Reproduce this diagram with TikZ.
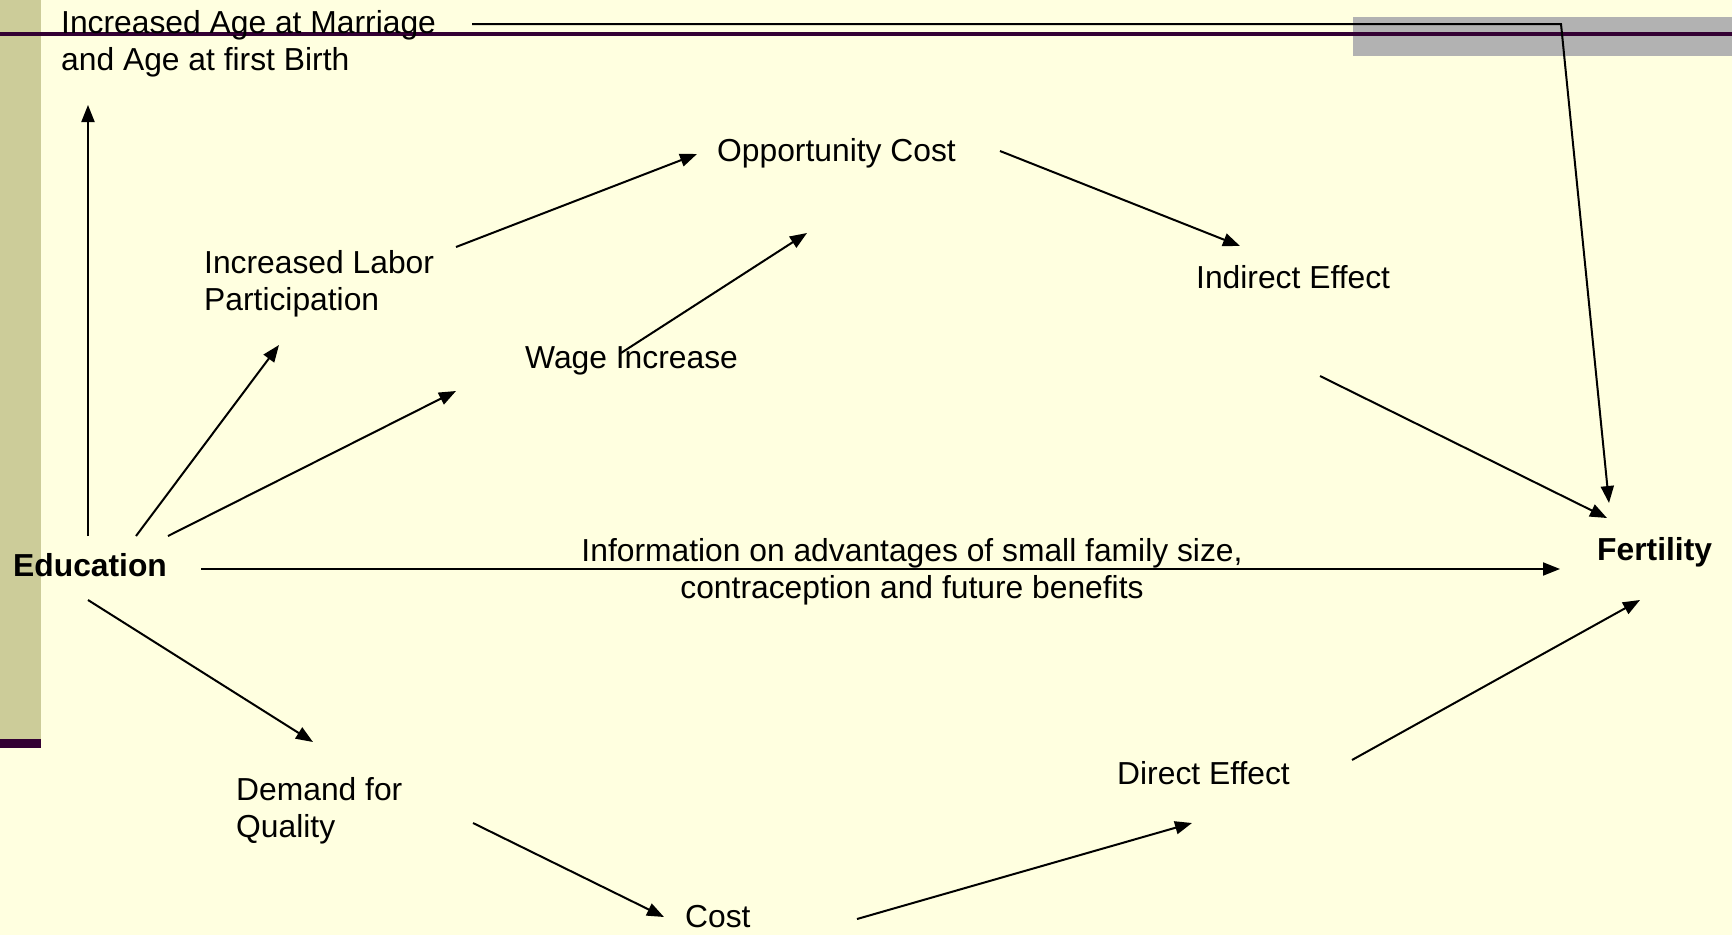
\documentclass[tikz,border=0pt]{standalone}
\usepackage{fontspec}
\setmainfont{Liberation Sans}
\usetikzlibrary{arrows.meta}
\definecolor{bg}{RGB}{255,255,224}
\definecolor{olivebar}{RGB}{204,204,153}
\definecolor{purp}{RGB}{51,0,51}
\definecolor{graybar}{RGB}{178,178,178}
\begin{document}
\begin{tikzpicture}[x=1pt,y=-1pt,
  every node/.style={inner sep=0pt, font=\fontsize{31.8}{37.5}\selectfont},
  lbl/.style={anchor=west, align=left},
  arr/.style={line width=2pt, -{Triangle[length=17pt,width=13pt]}}]
\useasboundingbox (0,0) rectangle (1732,935);
\fill[bg] (0,0) rectangle (1732,935);
\fill[graybar] (1353,17) rectangle (1732,56);
\fill[olivebar] (0,0) rectangle (41,739);
\fill[purp] (0,739) rectangle (41,748);
\fill[purp] (0,31.5) rectangle (1732,35.5);

% nodes
\node[lbl] (marr) at (61,44) {Increased Age at Marriage\\and Age at first Birth};
\node[lbl] (labor) at (204,284) {Increased Labor\\Participation};
\node[lbl] (opp) at (717,153) {Opportunity Cost};
\node[lbl] (wage) at (525,361) {Wage Increase};
\node[lbl] (ind) at (1196,277) {Indirect Effect};
\node[lbl,font=\fontsize{31.8}{37.5}\selectfont\bfseries] (edu) at (13,565) {Education};
\node[lbl,font=\fontsize{31.8}{37.5}\selectfont\bfseries] (fert) at (1597,552) {Fertility};
\node[align=center] (info) at (912,572) {Information on advantages of small family size,\\contraception and future benefits};
\node[lbl] (dem) at (236,811) {Demand for\\Quality};
\node[lbl] (dir) at (1117,773) {Direct Effect};
\node[lbl] (cost) at (685,917) {Cost};

% connector end points
\coordinate (eduN) at (88,536);
\coordinate (marrS) at (88,105);
\coordinate (eduNE1) at (136,536);
\coordinate (laborS) at (279,345);
\coordinate (eduNE2) at (168,536);
\coordinate (wageW) at (456,391);
\coordinate (laborE) at (456,247);
\coordinate (oppW) at (697,154);
\coordinate (wageM) at (621,353);
\coordinate (oppS) at (807,233);
\coordinate (oppE) at (1000,151);
\coordinate (indN) at (1240,246);
\coordinate (indS) at (1320,376);
\coordinate (fertNW) at (1607,518);
\coordinate (marrE) at (472,24);
\coordinate (bend) at (1561,24);
\coordinate (fertN) at (1609,503);
\coordinate (eduE) at (201,569);
\coordinate (fertW) at (1560,569);
\coordinate (eduS) at (88,600);
\coordinate (demN) at (313,742);
\coordinate (demE) at (473,823);
\coordinate (costW) at (664,917);
\coordinate (costE) at (857,919);
\coordinate (dirW) at (1192,823);
\coordinate (dirE) at (1352,760);
\coordinate (fertS) at (1640,600);

% connectors
\draw[arr] (eduN) -- (marrS);
\draw[arr] (eduNE1) -- (laborS);
\draw[arr] (eduNE2) -- (wageW);
\draw[arr] (laborE) -- (oppW);
\draw[arr] (wageM) -- (oppS);
\draw[arr] (oppE) -- (indN);
\draw[arr] (indS) -- (fertNW);
\draw[arr] (marrE) -- (bend) -- (fertN);
\draw[arr] (eduE) -- (fertW);
\draw[arr] (eduS) -- (demN);
\draw[arr] (demE) -- (costW);
\draw[arr] (costE) -- (dirW);
\draw[arr] (dirE) -- (fertS);
\end{tikzpicture}
\end{document}
